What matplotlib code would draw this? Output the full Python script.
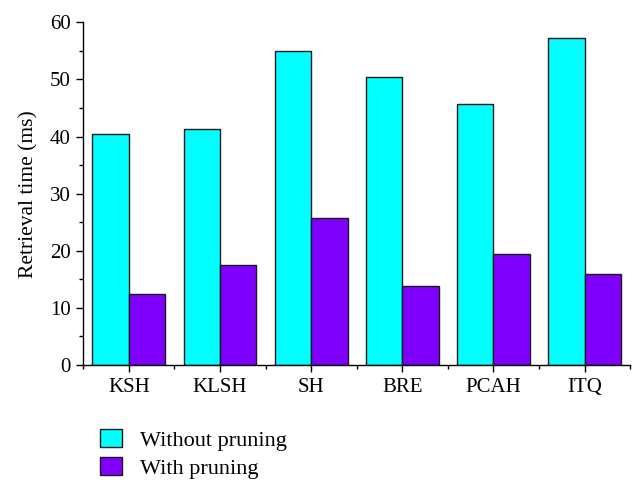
import numpy as np
import matplotlib.pyplot as plt
from matplotlib.ticker import MultipleLocator

plt.rcParams['font.family'] = ['Liberation Serif', 'DejaVu Serif']

methods = ['KSH', 'KLSH', 'SH', 'BRE', 'PCAH', 'ITQ']
without_pruning = [40.4, 41.4, 54.9, 50.5, 45.7, 57.2]
with_pruning = [12.4, 17.6, 25.8, 13.8, 19.5, 16.0]

x = np.arange(1, len(methods) + 1)
w = 0.4

fig = plt.figure(figsize=(6.43, 4.96), dpi=100)
ax = fig.add_axes([0.1296, 0.264, 0.8504, 0.691])

ax.bar(x - w / 2, without_pruning, w, color='#00FFFF', edgecolor='#1a1a1a',
       linewidth=1.0, label='Without pruning')
ax.bar(x + w / 2, with_pruning, w, color='#8000FF', edgecolor='#1a1a1a',
       linewidth=1.0, label='With pruning')

ax.set_xlim(0.5, 6.5)
ax.set_ylim(0, 60)
ax.set_xticks(x)
ax.set_xticklabels(methods, fontsize=15)
ax.xaxis.set_minor_locator(MultipleLocator(1.0, offset=0.5))
ax.yaxis.set_major_locator(MultipleLocator(10))
ax.yaxis.set_minor_locator(MultipleLocator(5))
ax.tick_params(axis='both', which='major', direction='out', length=5, width=1,
               labelsize=15, pad=4)
ax.tick_params(axis='both', which='minor', direction='out', length=3, width=1)
ax.set_ylabel('Retrieval time (ms)', fontsize=15.5, labelpad=8)

for side in ['top', 'right']:
    ax.spines[side].set_visible(False)
for side in ['left', 'bottom']:
    ax.spines[side].set_linewidth(1)

fig.legend(loc='upper left', bbox_to_anchor=(0.1555, 0.135), frameon=False,
           fontsize=16, handlelength=1.0, handleheight=0.85, handletextpad=0.8,
           labelspacing=0.3, borderaxespad=0, borderpad=0)

fig.savefig('out.png', dpi=100)
